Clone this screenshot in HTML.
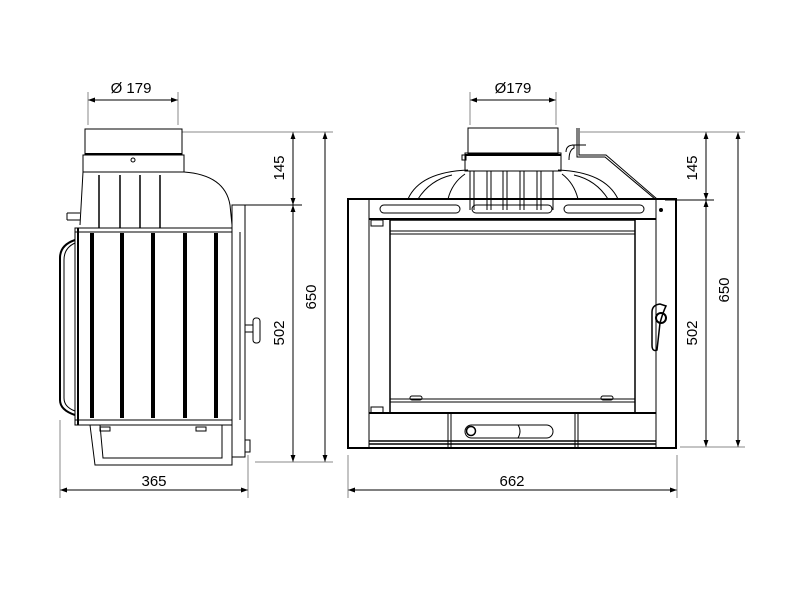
<!DOCTYPE html>
<html><head><style>body{margin:0;background:#fff}svg{display:block}</style></head><body>
<svg width="800" height="600" viewBox="0 0 800 600" xmlns="http://www.w3.org/2000/svg" font-family="Liberation Sans, sans-serif" font-size="15">
<defs>
<marker id="a" viewBox="0 0 10 10" refX="10" refY="5" markerWidth="7" markerHeight="7" orient="auto-start-reverse"><path d="M0,1.5 L10,5 L0,8.5z" fill="#000"/></marker>
</defs>
<g stroke="#000" fill="none" stroke-width="1">
<!-- dimension lines -->
<line x1="88" y1="100" x2="178" y2="100" marker-start="url(#a)" marker-end="url(#a)"/>
<line x1="88" y1="92" x2="88" y2="125" stroke="#888"/><line x1="178" y1="92" x2="178" y2="125" stroke="#888"/>
<line x1="470" y1="100" x2="556" y2="100" marker-start="url(#a)" marker-end="url(#a)"/>
<line x1="470" y1="92" x2="470" y2="125" stroke="#888"/><line x1="556" y1="92" x2="556" y2="125" stroke="#888"/>
<line x1="293" y1="132" x2="293" y2="205" marker-start="url(#a)" marker-end="url(#a)"/>
<line x1="293" y1="205" x2="293" y2="462" marker-start="url(#a)" marker-end="url(#a)"/>
<line x1="325" y1="132" x2="325" y2="462" marker-start="url(#a)" marker-end="url(#a)"/>
<line x1="182" y1="132" x2="333" y2="132" stroke="#888"/>
<line x1="240" y1="205" x2="302" y2="205"/>
<line x1="255" y1="462" x2="333" y2="462" stroke="#888"/>
<line x1="706" y1="132" x2="706" y2="200" marker-start="url(#a)" marker-end="url(#a)"/>
<line x1="706" y1="200" x2="706" y2="447" marker-start="url(#a)" marker-end="url(#a)"/>
<line x1="738" y1="132" x2="738" y2="447" marker-start="url(#a)" marker-end="url(#a)"/>
<line x1="580" y1="132" x2="745" y2="132" stroke="#888"/>
<line x1="665" y1="200" x2="714" y2="200"/>
<line x1="680" y1="447" x2="745" y2="447" stroke="#888"/>
<line x1="60" y1="490" x2="248" y2="490" marker-start="url(#a)" marker-end="url(#a)"/>
<line x1="60" y1="420" x2="60" y2="498" stroke="#888"/><line x1="248" y1="455" x2="248" y2="498" stroke="#888"/>
<line x1="348" y1="490" x2="677" y2="490" marker-start="url(#a)" marker-end="url(#a)"/>
<line x1="348" y1="455" x2="348" y2="498" stroke="#888"/><line x1="677" y1="455" x2="677" y2="498" stroke="#888"/>

<!-- LEFT side view -->
<rect x="85" y="129" width="97" height="26"/>
<line x1="85" y1="154" x2="182" y2="154" stroke-width="2"/>
<rect x="83" y="155" width="101" height="17"/>
<circle cx="133" cy="160" r="2"/>
<path d="M83,172 L80,225 M184,172 Q225,175 230,205 L232,225"/>
<line x1="67" y1="213" x2="80" y2="213"/><line x1="67" y1="213" x2="67" y2="220"/><line x1="67" y1="220" x2="80" y2="220"/>
<g stroke-width="1.5"><line x1="99" y1="175" x2="99" y2="228"/><line x1="120" y1="175" x2="120" y2="228"/><line x1="140" y1="175" x2="140" y2="228"/><line x1="160" y1="175" x2="160" y2="228"/></g>
<rect x="75" y="228" width="157" height="197"/>
<line x1="75" y1="232" x2="232" y2="232"/>
<line x1="75" y1="420" x2="232" y2="420"/>
<path d="M75,240 Q60,245 60,258 L60,400 Q60,410 75,415" stroke-width="2"/>
<path d="M75,243 Q64,248 64,260 L64,398 Q64,407 75,411"/>
<g stroke-width="4"><line x1="92" y1="233" x2="92" y2="418"/><line x1="122" y1="233" x2="122" y2="418"/><line x1="153" y1="233" x2="153" y2="418"/><line x1="185" y1="233" x2="185" y2="418"/><line x1="216" y1="233" x2="216" y2="418"/></g>
<line x1="78" y1="228" x2="78" y2="425" stroke-width="2"/>
<rect x="232" y="205" width="13" height="252"/>
<line x1="240" y1="232" x2="240" y2="420"/>
<rect x="253" y="318" width="7" height="25" rx="3"/>
<line x1="245" y1="325" x2="253" y2="325"/><line x1="245" y1="332" x2="253" y2="332"/>
<path d="M90,425 L95,465 L232,465 L232,425"/>
<path d="M100,425 L103,458 L222,458 L222,425"/>
<rect x="100" y="427" width="10" height="4"/><rect x="196" y="427" width="10" height="4"/>
<rect x="245" y="440" width="5" height="12"/>

<!-- RIGHT front view -->
<rect x="468" y="128" width="90" height="26"/>
<rect x="465" y="153" width="96" height="18"/>
<line x1="465" y1="155" x2="561" y2="155" stroke-width="2"/>
<rect x="462" y="155" width="4" height="5"/>
<path d="M408,199 Q420,172 468,170 M558,170 Q605,172 618,199"/>
<path d="M418,199 Q430,180 452,175 M608,199 Q596,180 574,175 M448,199 Q452,183 465,174 M578,199 Q574,183 562,174"/>
<g><line x1="470" y1="171" x2="470" y2="210"/><line x1="487" y1="171" x2="487" y2="210"/><line x1="503" y1="171" x2="503" y2="210"/><line x1="520" y1="171" x2="520" y2="210"/><line x1="537" y1="171" x2="537" y2="210"/><line x1="553" y1="171" x2="553" y2="210"/>
<line x1="474" y1="171" x2="474" y2="210"/><line x1="491" y1="171" x2="491" y2="210"/><line x1="507" y1="171" x2="507" y2="210"/><line x1="524" y1="171" x2="524" y2="210"/><line x1="541" y1="171" x2="541" y2="210"/></g>
<path d="M577,128 L577,157 L605,157 L655,199"/>
<path d="M579,128 L579,155 L606,155 L657,199"/>
<path d="M572,145 L586,145 M566,152 Q566,145 574,145 L574,148 Q569,150 569,160"/>
<rect x="348" y="199" width="328" height="249" stroke-width="2"/>
<line x1="369" y1="199" x2="369" y2="448"/>
<line x1="656" y1="199" x2="656" y2="448"/>
<line x1="369" y1="219" x2="656" y2="219" stroke-width="2"/>
<rect x="380" y="205" width="80" height="8" rx="4"/>
<rect x="472" y="205" width="80" height="8" rx="4"/>
<rect x="564" y="205" width="80" height="8" rx="4"/>
<circle cx="661" cy="210" r="1.5" fill="#000"/>
<rect x="390" y="220" width="245" height="193" stroke-width="1.5"/>
<line x1="390" y1="231" x2="635" y2="231"/><line x1="390" y1="234" x2="635" y2="234"/>
<line x1="390" y1="399" x2="635" y2="399"/><line x1="390" y1="402" x2="635" y2="402"/>
<rect x="410" y="396" width="12" height="4" rx="2"/><rect x="601" y="396" width="12" height="4" rx="2"/>
<rect x="371" y="220" width="12" height="6"/><rect x="371" y="407" width="12" height="6"/>
<line x1="369" y1="413" x2="656" y2="413" stroke-width="2"/>
<line x1="448" y1="413" x2="448" y2="448"/><line x1="451" y1="413" x2="451" y2="448"/>
<line x1="575" y1="413" x2="575" y2="448"/><line x1="578" y1="413" x2="578" y2="448"/>
<line x1="369" y1="441" x2="656" y2="441" stroke-width="1.5"/><line x1="369" y1="444" x2="656" y2="444" stroke-width="1.5"/>
<rect x="465" y="425" width="88" height="13" rx="6.5"/>
<circle cx="471" cy="431" r="4.5" stroke-width="1.5"/>
<path d="M518,425 Q522,431 518,438"/>
<path d="M652,312 L652,345 Q652,352 657,350 L660,323 Q663,312 666,306 L660,304 Q652,305 652,312z" stroke-width="1.5"/>
<circle cx="661" cy="318" r="5" stroke-width="2"/>
</g>
<g fill="#000" text-anchor="middle">
<text x="131" y="93">Ø 179</text>
<text x="513" y="93">Ø179</text>
<text x="154" y="486">365</text>
<text x="512" y="486">662</text>
<text transform="translate(284,168) rotate(-90)">145</text>
<text transform="translate(284,333) rotate(-90)">502</text>
<text transform="translate(316,297) rotate(-90)">650</text>
<text transform="translate(697,168) rotate(-90)">145</text>
<text transform="translate(697,333) rotate(-90)">502</text>
<text transform="translate(729,290) rotate(-90)">650</text>
</g>
</svg>
</body></html>
